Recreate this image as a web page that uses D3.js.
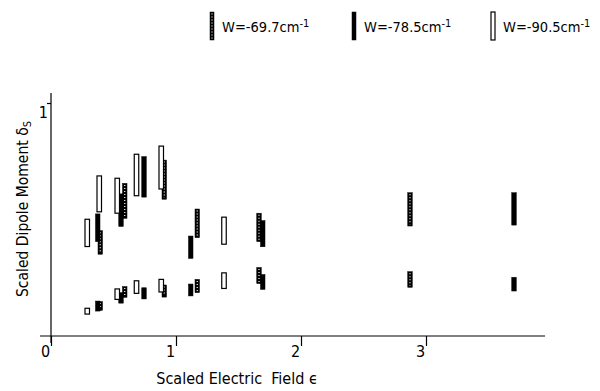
<!DOCTYPE html>
<html>
<head>
<meta charset="utf-8">
<script src="https://cdn.jsdelivr.net/npm/d3@7"></script>
<style>
  body { margin: 0; background: #fff; }
  svg { display: block; }
  text { font-family: "DejaVu Sans Condensed", "DejaVu Sans", sans-serif; fill: #000; }
</style>
</head>
<body>
<div id="chart"></div>
<script>
// series: W values and bar styles
const seriesNames = ['W=-69.7', 'W=-78.5', 'W=-90.5'];
const seriesStyles = ['dotted', 'solid', 'open'];

// scaled field for each bar of each series
const epsDotted = [0.394, 0.590, 0.906, 1.170, 1.664, 2.872];
const epsSolid  = [0.374, 0.560, 0.744, 1.118, 1.694, 3.704];
const epsOpen   = [0.290, 0.386, 0.530, 0.684, 0.882, 1.384];

// upper branch ranges [low, high]
const upperDotted = [[0.351, 0.452], [0.505, 0.655], [0.587, 0.755], [0.422, 0.545], [0.405, 0.527], [0.472, 0.615]];
const upperSolid  = [[0.405, 0.524], [0.470, 0.610], [0.596, 0.770], [0.333, 0.429], [0.383, 0.495], [0.476, 0.615]];
const upperOpen   = [[0.384, 0.501], [0.533, 0.687], [0.527, 0.677], [0.602, 0.780], [0.631, 0.815], [0.394, 0.510]];

// lower branch ranges [low, high]
const lowerDotted = [[0.110, 0.148], [0.166, 0.212], [0.167, 0.219], [0.186, 0.243], [0.225, 0.294], [0.209, 0.276]];
const lowerSolid  = [[0.107, 0.150], [0.141, 0.186], [0.159, 0.207], [0.172, 0.223], [0.200, 0.264], [0.193, 0.252]];
const lowerOpen   = [[0.094, 0.119], null, [0.157, 0.202], [0.183, 0.237], [0.189, 0.243], [0.204, 0.271]];

const xTicks = [0, 1, 2, 3];
const yTicks = [1];

const width = 600, height = 391;

const svg = d3.select('#chart').append('svg')
  .attr('width', width)
  .attr('height', height);

const x = d3.scaleLinear().domain([0, 1]).range([51, 176]);
const y = d3.scaleLinear().domain([0, 1]).range([336, 103]);

// axes lines
svg.append('line')
  .attr('x1', 40).attr('x2', 545)
  .attr('y1', y(0)).attr('y2', y(0))
  .attr('stroke', '#000').attr('stroke-width', 1.2);
svg.append('line')
  .attr('x1', x(0)).attr('x2', x(0))
  .attr('y1', 93).attr('y2', 343)
  .attr('stroke', '#000').attr('stroke-width', 1.2);

const xAxis = svg.append('g')
  .attr('transform', `translate(0,${y(0)})`)
  .call(d3.axisBottom(x).tickValues(xTicks).tickSize(10).tickFormat(d3.format('d')));
xAxis.select('.domain').remove();
xAxis.selectAll('line').attr('stroke-width', 1.2);
xAxis.selectAll('text')
  .attr('dx', -6).attr('dy', 8)
  .style('font-size', '16px')
  .style('font-family', '"DejaVu Sans Condensed", sans-serif');

const yAxis = svg.append('g')
  .attr('transform', `translate(${x(0)},0)`)
  .call(d3.axisLeft(y).tickValues(yTicks).tickSize(4).tickFormat(d3.format('d')));
yAxis.select('.domain').remove();
yAxis.selectAll('line').attr('stroke-width', 1.2);
yAxis.selectAll('text')
  .attr('x', -3).attr('dy', 14)
  .style('font-size', '16px')
  .style('font-family', '"DejaVu Sans Condensed", sans-serif');

// axis titles
svg.append('text')
  .attr('x', 237).attr('y', 384)
  .attr('text-anchor', 'middle')
  .style('font-size', '16px')
  .style('white-space', 'pre')
  .text('Scaled Electric  Field \u03f5');

const yl = svg.append('text')
  .attr('transform', 'translate(28,209) rotate(-90)')
  .attr('text-anchor', 'middle')
  .style('font-size', '15.5px');
yl.append('tspan').text('Scaled Dipole Moment \u03b4');
yl.append('tspan').attr('baseline-shift', '-25%').style('font-size', '11px').text('S');

// bars
const bars = [];
[[epsDotted, upperDotted, lowerDotted, 'dotted'],
 [epsSolid, upperSolid, lowerSolid, 'solid'],
 [epsOpen, upperOpen, lowerOpen, 'open']].forEach(([eps, up, lo, style]) => {
  eps.forEach((e, i) => {
    if (up[i]) bars.push({e, r: up[i], style});
    if (lo[i]) bars.push({e, r: lo[i], style});
  });
});

const barW = 4.5;
function drawBar(g, style, cx, y0, y1, w) {
  g.append('rect')
    .attr('x', cx - w / 2)
    .attr('y', y0)
    .attr('width', w)
    .attr('height', y1 - y0)
    .attr('fill', style === 'open' ? '#fff' : '#000')
    .attr('stroke', '#000')
    .attr('stroke-width', style === 'open' ? 1.2 : 0.5);
  if (style === 'dotted') {
    g.append('line')
      .attr('x1', cx).attr('x2', cx)
      .attr('y1', y0 + 1.5).attr('y2', y1 - 1.5)
      .attr('stroke', '#fff')
      .attr('stroke-width', 1.2)
      .attr('stroke-dasharray', '1,2');
  }
}

const barG = svg.append('g');
bars.forEach(d => drawBar(barG, d.style, x(d.e), y(d.r[1]), y(d.r[0]), barW));

// legend
const legendX = [212, 354, 493];
const legend = svg.selectAll('.legend')
  .data(seriesNames)
  .enter()
  .append('g')
  .attr('class', 'legend')
  .attr('transform', (d, i) => `translate(${legendX[i]},12)`);

legend.each(function (d, i) {
  drawBar(d3.select(this), seriesStyles[i], 0, 0, 28, 4);
});

const lt = legend.append('text')
  .attr('x', 10).attr('y', 20)
  .style('font-size', '14.5px');
lt.append('tspan').text(d => d + 'cm');
lt.append('tspan').attr('baseline-shift', '45%').style('font-size', '11px').text('-1');
</script>
</body>
</html>
